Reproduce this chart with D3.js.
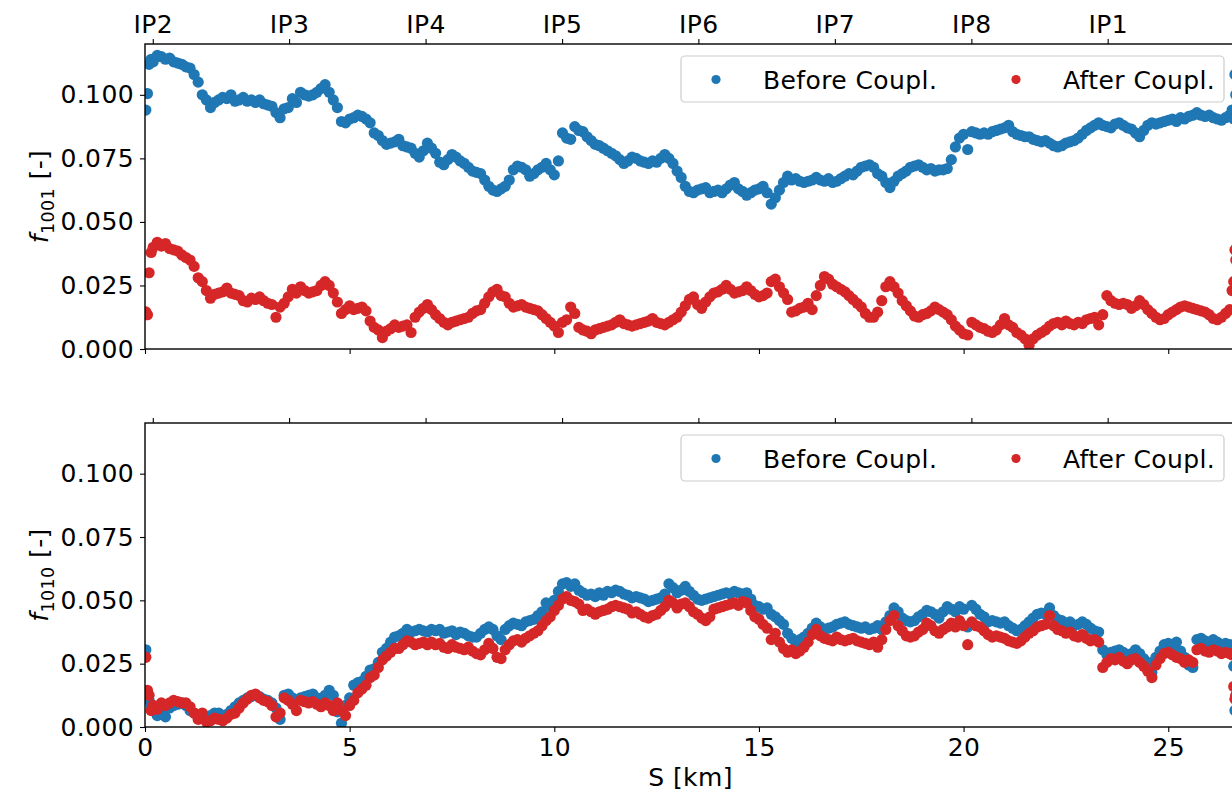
<!DOCTYPE html>
<html><head><meta charset="utf-8">
<script src="https://cdn.jsdelivr.net/npm/d3@7"></script>
<style>
html,body{margin:0;padding:0;background:#fff;}
svg{display:block;font-family:"DejaVu Sans",sans-serif;}
</style></head>
<body><svg id="c" width="1232" height="794"></svg>
<script>
// ---- data ----
const S = [0.02,0.06,0.1,0.15,0.2,0.3,0.4,0.5,0.6,0.7,0.8,0.9,
1.0,1.1,1.2,1.3,1.4,1.5,1.6,1.7,1.8,1.9,
2.0,2.1,2.2,2.3,2.4,2.5,2.6,2.7,2.8,2.9,
3.0,3.1,3.2,3.3,3.4,3.5,3.6,3.7,3.8,3.9,
4.0,4.1,4.2,4.3,4.4,4.5,4.6,4.7,4.8,4.9,
5.0,5.1,5.2,5.3,5.4,5.5,5.6,5.7,5.8,5.9,
6.0,6.1,6.2,6.3,6.4,6.5,6.6,6.7,6.8,6.9,
7.0,7.1,7.2,7.3,7.4,7.5,7.6,7.7,7.8,7.9,
8.0,8.1,8.2,8.3,8.4,8.5,8.6,8.7,8.8,8.9,
9.0,9.1,9.2,9.3,9.4,9.5,9.6,9.7,9.8,9.9,
10.0,10.1,10.2,10.3,10.4,10.5,10.6,10.7,10.8,10.9,
11.0,11.1,11.2,11.3,11.4,11.5,11.6,11.7,11.8,11.9,
12.0,12.1,12.2,12.3,12.4,12.5,12.6,12.7,12.8,12.9,
13.0,13.1,13.2,13.3,13.4,13.5,13.6,13.7,13.8,13.9,
14.0,14.1,14.2,14.3,14.4,14.5,14.6,14.7,14.8,14.9,
15.0,15.1,15.2,15.3,15.4,15.5,15.6,15.7,15.8,15.9,
16.0,16.1,16.2,16.3,16.4,16.5,16.6,16.7,16.8,16.9,
17.0,17.1,17.2,17.3,17.4,17.5,17.6,17.7,17.8,17.9,
18.0,18.1,18.2,18.3,18.4,18.5,18.6,18.7,18.8,18.9,
19.0,19.1,19.2,19.3,19.4,19.5,19.6,19.7,19.8,19.9,
20.0,20.1,20.2,20.3,20.4,20.5,20.6,20.7,20.8,20.9,
21.0,21.1,21.2,21.3,21.4,21.5,21.6,21.7,21.8,21.9,
22.0,22.1,22.2,22.3,22.4,22.5,22.6,22.7,22.8,22.9,
23.0,23.1,23.2,23.3,23.4,23.5,23.6,23.7,23.8,23.9,
24.0,24.1,24.2,24.3,24.4,24.5,24.6,24.7,24.8,24.9,
25.0,25.1,25.2,25.3,25.4,25.5,25.6,25.7,25.8,25.9,
26.0,26.1,26.2,26.3,26.4,26.5,26.56,26.6,26.63,26.65];

const f1001Before = [0.094,0.1005,0.112,0.114,0.113,0.1155,0.115,0.114,0.1145,0.113,0.1125,0.112,
0.111,0.1105,0.108,0.105,0.100,0.098,0.095,0.097,0.098,0.099,
0.0985,0.100,0.0975,0.098,0.099,0.0975,0.098,0.097,0.098,0.0965,
0.096,0.0955,0.093,0.091,0.0945,0.095,0.0985,0.097,0.101,0.100,
0.0995,0.100,0.101,0.1025,0.104,0.101,0.098,0.095,0.0895,0.089,
0.0905,0.091,0.092,0.0915,0.0905,0.089,0.085,0.084,0.082,0.0805,
0.081,0.0815,0.0825,0.080,0.0795,0.079,0.077,0.0755,0.078,0.081,
0.079,0.077,0.0735,0.0725,0.0745,0.0765,0.0755,0.074,0.073,0.0715,
0.070,0.0695,0.069,0.0665,0.064,0.0625,0.062,0.063,0.064,0.0665,
0.0705,0.072,0.0715,0.0705,0.068,0.069,0.0705,0.0715,0.073,0.0705,
0.0685,0.074,0.085,0.083,0.0825,0.0875,0.086,0.0855,0.0835,0.082,
0.0805,0.080,0.079,0.078,0.077,0.076,0.0745,0.073,0.074,0.0755,
0.075,0.074,0.0735,0.073,0.074,0.0735,0.075,0.0765,0.075,0.073,
0.070,0.0675,0.064,0.062,0.0615,0.0625,0.063,0.0635,0.0615,0.062,
0.0625,0.0615,0.063,0.0645,0.0655,0.063,0.062,0.0605,0.0615,0.0625,
0.063,0.064,0.0615,0.057,0.0595,0.0625,0.0655,0.068,0.0665,0.067,
0.066,0.0655,0.066,0.0665,0.0675,0.0665,0.066,0.067,0.0655,0.066,
0.067,0.068,0.069,0.0685,0.070,0.0715,0.072,0.0725,0.0715,0.069,
0.068,0.0655,0.0635,0.066,0.068,0.069,0.070,0.0715,0.072,0.0725,
0.0715,0.0705,0.071,0.070,0.0705,0.0705,0.071,0.0745,0.0795,0.083,
0.0845,0.0785,0.0855,0.085,0.0845,0.085,0.0845,0.0855,0.086,0.0865,
0.087,0.088,0.0855,0.0845,0.084,0.0835,0.0835,0.0825,0.082,0.0815,
0.082,0.081,0.080,0.0795,0.080,0.081,0.0815,0.082,0.083,0.0845,
0.086,0.087,0.088,0.089,0.088,0.0875,0.087,0.0885,0.089,0.088,
0.087,0.0865,0.085,0.0835,0.086,0.088,0.089,0.0885,0.089,0.0895,
0.090,0.0905,0.0895,0.091,0.0905,0.0915,0.092,0.093,0.092,0.0915,
0.092,0.091,0.0905,0.090,0.091,0.092,0.094,0.0905,0.108,0.100];

const f1001After = [0.0146,0.0135,0.030,0.038,0.040,0.042,0.0405,0.0415,0.0395,0.039,0.0385,0.037,
0.036,0.035,0.0325,0.028,0.0265,0.023,0.020,0.0215,0.022,0.0225,
0.024,0.022,0.0215,0.021,0.019,0.0185,0.020,0.0195,0.0205,0.019,
0.018,0.0175,0.0125,0.0165,0.018,0.0205,0.0235,0.022,0.0245,0.023,
0.022,0.0225,0.023,0.025,0.0265,0.025,0.022,0.0185,0.014,0.0155,
0.017,0.0155,0.016,0.0165,0.015,0.011,0.0085,0.0075,0.0045,0.007,
0.008,0.0095,0.0085,0.009,0.0095,0.0065,0.0125,0.0145,0.016,0.0175,
0.0155,0.0135,0.012,0.0105,0.0095,0.0105,0.011,0.0115,0.012,0.0125,
0.014,0.015,0.0155,0.018,0.0205,0.0225,0.0235,0.021,0.0205,0.018,
0.0165,0.017,0.0175,0.0165,0.016,0.0155,0.015,0.0135,0.012,0.0105,
0.009,0.0065,0.0105,0.0115,0.0165,0.014,0.0085,0.0075,0.007,0.006,
0.0075,0.008,0.0085,0.009,0.0095,0.0105,0.0115,0.010,0.0095,0.009,
0.0095,0.010,0.0105,0.011,0.012,0.0105,0.010,0.0095,0.0105,0.0115,
0.0125,0.0145,0.017,0.0195,0.0205,0.0175,0.016,0.0185,0.0205,0.022,
0.0225,0.0235,0.025,0.0235,0.022,0.0225,0.023,0.0245,0.023,0.0215,
0.0205,0.021,0.022,0.0265,0.0275,0.0245,0.022,0.0195,0.0145,0.015,
0.016,0.0165,0.018,0.0155,0.021,0.025,0.0285,0.0275,0.0255,0.0245,
0.0235,0.0225,0.021,0.0195,0.018,0.0165,0.014,0.0125,0.0125,0.0145,
0.019,0.0245,0.0265,0.0245,0.022,0.019,0.017,0.015,0.013,0.0125,
0.0135,0.014,0.015,0.0165,0.0155,0.0145,0.0135,0.0115,0.009,0.0075,
0.006,0.0055,0.0105,0.0095,0.0085,0.008,0.007,0.0065,0.0075,0.0095,
0.012,0.0095,0.0085,0.0065,0.0055,0.004,0.0015,0.004,0.0055,0.0065,
0.0075,0.009,0.010,0.0105,0.0095,0.011,0.010,0.0095,0.0105,0.010,
0.0115,0.012,0.0125,0.0095,0.0135,0.021,0.019,0.018,0.0175,0.018,
0.0175,0.016,0.017,0.019,0.0175,0.0155,0.014,0.0125,0.0115,0.012,
0.0135,0.0145,0.0155,0.0165,0.017,0.0165,0.016,0.0155,0.015,0.0145,
0.0135,0.012,0.0115,0.0125,0.014,0.0155,0.023,0.0265,0.039,0.035];

const f1010Before = [0.0305,0.0125,0.0105,0.0085,0.0065,0.0045,0.006,0.004,0.0075,0.0085,0.009,0.0095,
0.0085,0.0065,0.0055,0.0045,0.005,0.0035,0.0045,0.0055,0.0055,0.004,
0.005,0.0065,0.008,0.0095,0.0105,0.0115,0.012,0.0125,0.012,0.011,
0.0105,0.0095,0.0075,0.003,0.0125,0.013,0.0115,0.0105,0.0115,0.012,
0.0125,0.013,0.0115,0.011,0.0125,0.0145,0.0125,0.006,0.0015,0.0085,
0.0115,0.0165,0.0175,0.018,0.020,0.0225,0.023,0.0255,0.0295,0.031,
0.0335,0.0355,0.036,0.037,0.0385,0.0375,0.038,0.0385,0.038,0.0375,
0.0385,0.038,0.0385,0.037,0.0375,0.038,0.0365,0.0375,0.037,0.036,
0.0355,0.0355,0.037,0.0385,0.0395,0.0385,0.036,0.0345,0.0385,0.040,
0.041,0.0405,0.040,0.0415,0.042,0.0425,0.044,0.0455,0.049,0.0475,
0.050,0.0535,0.0565,0.057,0.0555,0.0565,0.054,0.053,0.052,0.0525,
0.0515,0.053,0.052,0.0535,0.053,0.054,0.0535,0.0525,0.052,0.051,
0.0515,0.051,0.0505,0.0495,0.050,0.0505,0.051,0.0525,0.0565,0.055,
0.053,0.054,0.0555,0.0535,0.052,0.0505,0.050,0.0505,0.051,0.0515,
0.052,0.0525,0.053,0.0525,0.0535,0.053,0.0525,0.053,0.0505,0.048,
0.0475,0.0465,0.047,0.0445,0.0435,0.042,0.0405,0.037,0.035,0.0335,
0.0345,0.0355,0.037,0.039,0.041,0.0395,0.0385,0.039,0.0395,0.0405,
0.041,0.0415,0.0405,0.040,0.0395,0.039,0.0395,0.0385,0.039,0.040,
0.0385,0.0415,0.044,0.047,0.0455,0.043,0.042,0.0415,0.042,0.0435,
0.0445,0.046,0.0455,0.0445,0.043,0.0455,0.0475,0.0465,0.0455,0.0475,
0.0465,0.0395,0.048,0.0465,0.0445,0.0435,0.0415,0.042,0.0415,0.041,
0.0415,0.040,0.039,0.038,0.0385,0.040,0.0415,0.043,0.0445,0.045,
0.0445,0.047,0.044,0.0425,0.042,0.041,0.0415,0.040,0.0405,0.0415,
0.0405,0.039,0.038,0.0375,0.0305,0.0285,0.0295,0.030,0.0305,0.0295,
0.0285,0.029,0.0305,0.029,0.027,0.0255,0.0215,0.0275,0.030,0.0325,
0.033,0.032,0.0335,0.030,0.0275,0.0245,0.0235,0.0345,0.035,0.034,
0.0335,0.0345,0.0335,0.0325,0.033,0.0325,0.0315,0.024,0.0065,0.012];

const f1010After = [0.0275,0.0145,0.0125,0.0065,0.0085,0.007,0.0095,0.0085,0.0095,0.0105,0.010,0.0095,
0.0095,0.008,0.0055,0.003,0.0055,0.002,0.0025,0.0035,0.003,0.0025,
0.0035,0.005,0.0055,0.0075,0.0095,0.011,0.0125,0.013,0.0115,0.0105,
0.010,0.0085,0.004,0.0055,0.0115,0.0105,0.009,0.0065,0.0105,0.010,
0.0095,0.010,0.009,0.008,0.0095,0.0085,0.0065,0.0095,0.0065,0.0045,
0.0085,0.0105,0.0135,0.015,0.0165,0.0195,0.0205,0.0235,0.0265,0.028,
0.0295,0.031,0.031,0.0325,0.034,0.0335,0.0325,0.033,0.0335,0.0325,
0.0335,0.0325,0.033,0.0315,0.031,0.0325,0.0315,0.031,0.0305,0.0315,
0.030,0.029,0.0285,0.0305,0.033,0.031,0.0275,0.027,0.0305,0.0325,
0.034,0.0345,0.0335,0.035,0.036,0.037,0.038,0.040,0.042,0.0435,
0.046,0.048,0.0505,0.0515,0.050,0.0495,0.0485,0.046,0.0465,0.0455,
0.0445,0.0455,0.046,0.0465,0.0475,0.048,0.0475,0.047,0.0465,0.045,
0.0455,0.0445,0.0435,0.043,0.044,0.0445,0.046,0.0475,0.050,0.049,
0.047,0.0485,0.049,0.0475,0.0455,0.0445,0.043,0.042,0.0435,0.0465,
0.047,0.0475,0.048,0.0485,0.049,0.048,0.0495,0.049,0.046,0.0435,
0.0425,0.0405,0.039,0.0345,0.037,0.0335,0.031,0.0295,0.0305,0.029,
0.030,0.0315,0.0335,0.0365,0.0385,0.036,0.035,0.0345,0.034,0.0355,
0.0345,0.034,0.0345,0.035,0.034,0.0335,0.033,0.0325,0.0335,0.0315,
0.0345,0.0385,0.042,0.044,0.040,0.038,0.036,0.0355,0.036,0.0375,
0.0385,0.041,0.040,0.038,0.037,0.0385,0.0395,0.041,0.0395,0.042,
0.040,0.0325,0.0415,0.040,0.0395,0.038,0.0365,0.0355,0.036,0.0355,
0.035,0.034,0.0335,0.033,0.034,0.0355,0.037,0.038,0.0395,0.040,
0.0405,0.044,0.040,0.0385,0.038,0.037,0.0375,0.036,0.0355,0.0365,
0.035,0.034,0.0345,0.0335,0.0235,0.0255,0.027,0.0265,0.0275,0.026,
0.025,0.0265,0.027,0.0255,0.024,0.022,0.0195,0.0245,0.027,0.029,
0.0295,0.0285,0.0275,0.027,0.0255,0.0265,0.0255,0.0305,0.031,0.030,
0.0295,0.0305,0.030,0.029,0.0295,0.029,0.0285,0.016,0.011,0.0125];

const ipLabels = ["IP2","IP3","IP4","IP5","IP6","IP7","IP8","IP1"];
const ipPositions = [0.19,3.52,6.855,10.19,13.52,16.855,20.19,23.52];
const yTicks = [0.000,0.025,0.050,0.075,0.100];
const xTicks = [0,5,10,15,20,25];
const seriesNames = ["Before Coupl.","After Coupl."];
const colors = ["#1f77b4","#d62728"];
const circumference = 26.659;

// ---- layout ----
const svg = d3.select("#c");
const L = 145, pxPerKm = 40.93;
const x = d3.scaleLinear().domain([0, circumference]).range([L, L + circumference*pxPerKm]);
const R = L + circumference*pxPerKm;
const panels = [
  {top:44, bottom:349, sub:"1001", before:f1001Before, after:f1001After, showIP:true, showX:false},
  {top:423, bottom:727, sub:"1010", before:f1010Before, after:f1010After, showIP:false, showX:true}
];
const FS = 25, LS = 0.4;

function styleText(sel) {
  sel.attr("font-size", FS).attr("letter-spacing", LS).attr("fill", "#000").attr("font-family", "DejaVu Sans");
}

panels.forEach((p, pi) => {
  const y = d3.scaleLinear().domain([0, 0.12]).range([p.bottom, p.top]);
  const g = svg.append("g");
  const clipId = "clip" + pi;
  svg.append("clipPath").attr("id", clipId).append("rect")
    .attr("x", L).attr("y", p.top).attr("width", R - L).attr("height", p.bottom - p.top);

  const dots = g.append("g").attr("clip-path", `url(#${clipId})`);
  [p.before, p.after].forEach((vals, si) => {
    const pts = S.map((s, i) => [s, vals[i]]).filter(d => d[1] != null);
    dots.append("g").selectAll("circle").data(pts).join("circle")
      .attr("cx", d => x(d[0])).attr("cy", d => y(d[1])).attr("r", 5.6)
      .attr("fill", colors[si]);
  });

  // left axis
  const ya = g.append("g").attr("transform", `translate(${L},0)`)
    .call(d3.axisLeft(y).tickValues(yTicks).tickFormat(d3.format(".3f")).tickSize(5).tickPadding(6).tickSizeOuter(0));
  ya.select(".domain").remove();
  styleText(ya.selectAll("text"));
  ya.selectAll("line").attr("stroke", "#000").attr("stroke-width", 1.1);

  // bottom axis
  const xa = g.append("g").attr("transform", `translate(0,${p.bottom})`)
    .call(d3.axisBottom(x).tickValues(xTicks).tickFormat(p.showX ? d3.format("d") : "").tickSize(5).tickPadding(6).tickSizeOuter(0));
  xa.select(".domain").remove();
  styleText(xa.selectAll("text"));
  xa.selectAll("line").attr("stroke", "#000").attr("stroke-width", 1.1);

  // top IP axis
  const ta = g.append("g").attr("transform", `translate(0,${p.top})`)
    .call(d3.axisTop(x).tickValues(ipPositions).tickFormat(p.showIP ? ((d,i) => ipLabels[i]) : "").tickSize(5).tickPadding(6).tickSizeOuter(0));
  ta.select(".domain").remove();
  styleText(ta.selectAll("text"));
  ta.selectAll("line").attr("stroke", "#000").attr("stroke-width", 1.1);

  // spines
  g.append("rect").attr("x", L).attr("y", p.top).attr("width", R - L).attr("height", p.bottom - p.top)
    .attr("fill", "none").attr("stroke", "#000").attr("stroke-width", 1.4);

  // y label
  const cy = (p.top + p.bottom) / 2;
  const lab = g.append("text").attr("transform", `translate(48,${cy}) rotate(-90)`)
    .attr("text-anchor", "middle").attr("font-size", FS).attr("letter-spacing", LS).attr("fill", "#000");
  lab.append("tspan").attr("font-style", "italic").text("f");
  lab.append("tspan").attr("font-size", 17.5).attr("dy", 6).text(p.sub);
  lab.append("tspan").attr("dy", -6).text(" [-]");

  // legend
  const ly = p.top + 12;
  const leg = g.append("g");
  leg.append("rect").attr("x", 681).attr("y", ly).attr("width", 543).attr("height", 46).attr("rx", 4)
    .attr("fill", "#fff").attr("fill-opacity", 0.8).attr("stroke", "#cccccc").attr("stroke-width", 1.2);
  const lx = [716, 1016];
  seriesNames.forEach((n, si) => {
    leg.append("circle").attr("cx", lx[si]).attr("cy", ly + 23.5).attr("r", 4.6).attr("fill", colors[si]);
    styleText(leg.append("text").attr("x", lx[si] + 47).attr("y", ly + 23.5 + 9).text(n));
  });
});

// x label
styleText(svg.append("text").attr("x", (L + R) / 2).attr("y", 786).attr("text-anchor", "middle").text("S [km]"));
</script></body></html>
